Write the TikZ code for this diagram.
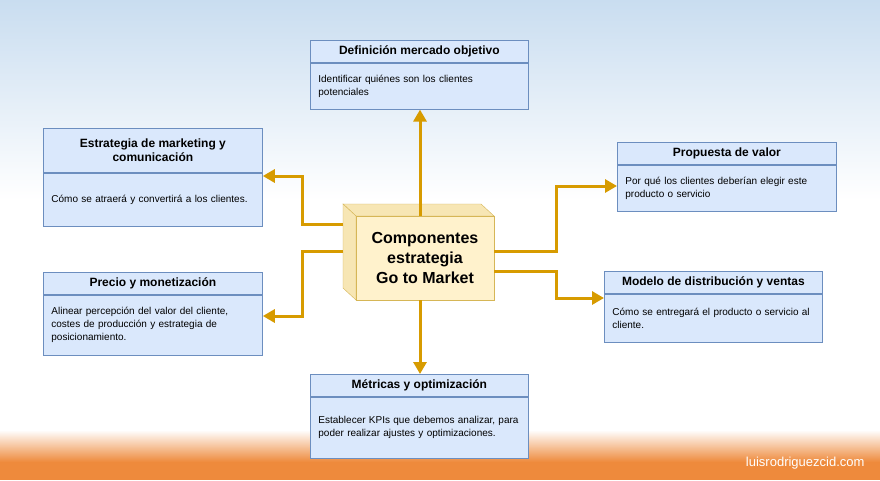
\documentclass[tikz,border=0pt]{standalone}
\usepackage{fontspec}
\setmainfont{Liberation Sans}
\usetikzlibrary{arrows.meta,positioning}

\definecolor{boxfill}{HTML}{DAE8FC}
\definecolor{boxline}{HTML}{6C8EBF}
\definecolor{arrowgold}{HTML}{D79B00}
\definecolor{cubefill}{HTML}{FFF2CC}
\definecolor{cubeline}{HTML}{D6B656}
\definecolor{skyblue}{HTML}{C9DDF0}
\definecolor{bandorange}{HTML}{EE8A3C}

\tikzset{
  head/.style={draw=boxline, fill=boxfill, line width=0.8pt, anchor=north west,
    minimum height=22pt, inner sep=2pt, font=\fontsize{12}{14}\selectfont\bfseries, align=center},
  body/.style={draw=boxline, fill=boxfill, line width=0.8pt, anchor=north west,
    inner xsep=8pt, font=\fontsize{10}{13}\selectfont, align=left, text width=#1},
  link/.style={arrowgold, line width=3pt, -{Triangle[length=12pt,width=13pt]}}
}

\begin{document}
\begin{tikzpicture}[x=1pt,y=-1pt]

    % background
    \shade[top color=skyblue, bottom color=white] (0,0) rectangle (880,200);
    \fill[white] (0,200) rectangle (880,440);
    \shade[top color=white, bottom color=bandorange] (0,430) rectangle (880,462);
    \fill[bandorange] (0,462) rectangle (880,480);
    \useasboundingbox (0,0) rectangle (880,480);
    \node[white, font=\fontsize{13}{15}\selectfont, anchor=east] (site) at (868,463) {luisrodriguezcid.com};

    % cube
    \fill[cubefill!80!cubeline, draw=cubeline] (356,216) -- (343,204) -- (481,204) -- (494,216) -- cycle;
    \fill[cubefill!80!cubeline, draw=cubeline] (356,216) -- (343,204) -- (343,288) -- (356,300) -- cycle;
    \node[draw=cubeline, fill=cubefill, minimum width=138pt, minimum height=84pt, inner sep=0pt,
      font=\fontsize{16}{20}\selectfont\bfseries, align=center] (core) at (425,258)
      {Componentes\\estrategia\\Go to Market};

    % boxes
    \node[head, minimum width=218pt] (targetH) at (310,40) {Definición mercado objetivo};
    \node[body=202pt, minimum height=46pt] (targetB) at (targetH.south west)
      {Identificar quiénes son los clientes\\potenciales};

    \node[head, minimum width=219pt, minimum height=44pt] (mktH) at (43,128) {Estrategia de marketing y\\comunicación};
    \node[body=203pt, minimum height=53pt] (mktB) at (mktH.south west)
      {Cómo se atraerá y convertirá a los clientes.};

    \node[head, minimum width=219pt] (valueH) at (617,142) {Propuesta de valor};
    \node[body=203pt, minimum height=46pt] (valueB) at (valueH.south west)
      {Por qué los clientes deberían elegir este\\producto o servicio};

    \node[head, minimum width=219pt] (priceH) at (43,272) {Precio y monetización};
    \node[body=203pt, minimum height=60pt] (priceB) at (priceH.south west)
      {Alinear percepción del valor del cliente,\\costes de producción y estrategia de\\posicionamiento.};

    \node[head, minimum width=218pt] (salesH) at (604,271) {Modelo de distribución y ventas};
    \node[body=202pt, minimum height=48pt] (salesB) at (salesH.south west)
      {Cómo se entregará el producto o servicio al\\cliente.};

    \node[head, minimum width=218pt] (kpiH) at (310,374) {Métricas y optimización};
    \node[body=202pt, minimum height=61pt] (kpiB) at (kpiH.south west)
      {Establecer KPIs que debemos analizar, para\\poder realizar ajustes y optimizaciones.};

    % connectors
    \coordinate (midx) at (420,0);
    \coordinate (leftx) at (343,0);
    \coordinate (rowA) at (0,224);
    \coordinate (rowB) at (0,251);
    \coordinate (rowC) at (0,271);
    \draw[link] (core.north -| midx) -- (targetB.south -| midx);
    \draw[link] (core.south -| midx) -- (kpiH.north -| midx);
    \draw[link] (leftx |- rowA) -- (302,224) |- (mktB.east |- 0,176);
    \draw[link] (leftx |- rowB) -- (302,251) |- (priceB.east |- 0,316);
    \draw[link] (core.east |- rowB) -- (556,251) |- (valueB.west |- 0,186);
    \draw[link] (core.east |- rowC) -- (556,271) |- (salesB.west |- 0,298);

\end{tikzpicture}
\end{document}
